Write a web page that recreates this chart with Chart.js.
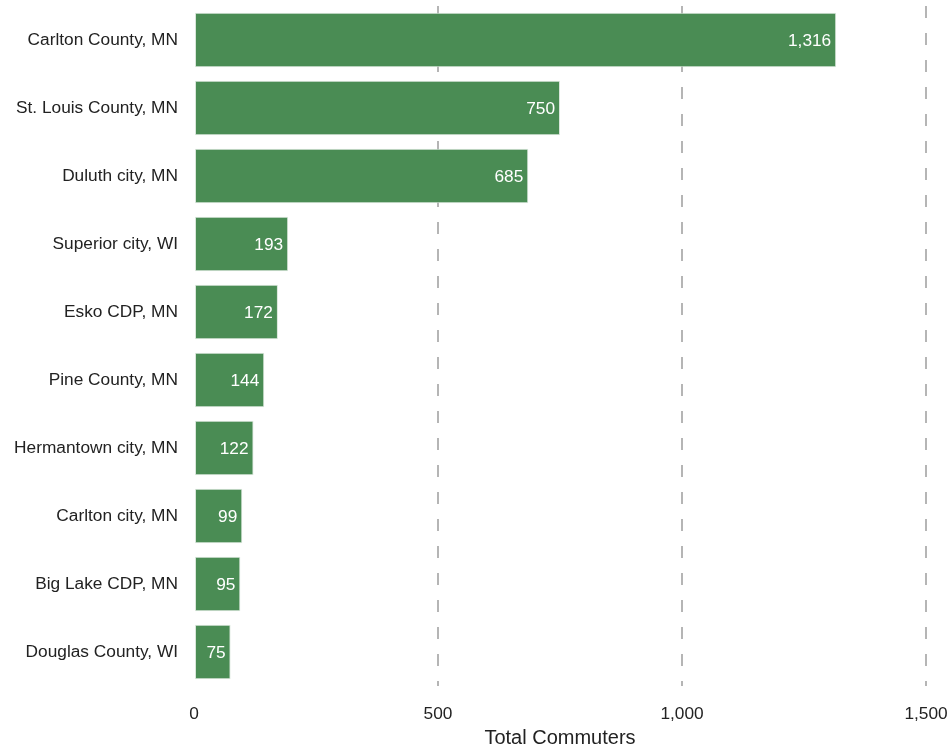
<!DOCTYPE html>
<html>
<head>
<meta charset="utf-8">
<script src="https://cdn.jsdelivr.net/npm/chart.js@4"></script>
<style>
    body { margin: 0; background: #fff; }
    #wrap { width: 949px; height: 747px; }
</style>
</head>
<body>
<div id="wrap"><canvas id="chart"></canvas></div>
<script>
const places = [
    'Carlton County, MN', 'St. Louis County, MN', 'Duluth city, MN', 'Superior city, WI',
    'Esko CDP, MN', 'Pine County, MN', 'Hermantown city, MN', 'Carlton city, MN',
    'Big Lake CDP, MN', 'Douglas County, WI'
];
const commuters = [1316, 750, 685, 193, 172, 144, 122, 99, 95, 75];
const xTicks = [0, 500, 1000, 1500];

const FONT = '"Liberation Sans", Arial, sans-serif';

// white value labels just inside the end of each bar
const barValues = {
    id: 'barValues',
    afterDatasetsDraw(chart) {
        const ctx = chart.ctx;
        const meta = chart.getDatasetMeta(0);
        ctx.save();
        ctx.font = '17.3px ' + FONT;
        ctx.fillStyle = '#ffffff';
        ctx.textAlign = 'right';
        ctx.textBaseline = 'middle';
        meta.data.forEach((bar, i) => {
            ctx.fillText(commuters[i].toLocaleString('en-US'), bar.x - 5, bar.y + 1);
        });
        ctx.restore();
    }
};

new Chart(document.getElementById('chart'), {
    type: 'bar',
    data: {
        labels: places,
        datasets: [{
            data: commuters,
            backgroundColor: '#4a8c54',
            borderColor: '#d9e6db',
            borderWidth: 1,
            borderSkipped: false,
            barPercentage: 0.8,
            categoryPercentage: 1.0
        }]
    },
    options: {
        indexAxis: 'y',
        responsive: true,
        maintainAspectRatio: false,
        animation: false,
        layout: { padding: { top: 6, right: 23, bottom: 0, left: 0 } },
        plugins: {
            legend: { display: false },
            tooltip: { enabled: false }
        },
        scales: {
            x: {
                min: 0,
                max: 1500,
                afterBuildTicks: axis => { axis.ticks = xTicks.map(v => ({ value: v })); },
                afterFit: axis => {
                    axis.height = 61;
                    axis.paddingLeft = 0;
                    axis.paddingRight = 0;
                },
                grid: {
                    drawTicks: false,
                    lineWidth: 2,
                    color: c => c.tick && c.tick.value === 0 ? 'rgba(0,0,0,0)' : '#b5b5b5'
                },
                border: { display: false, dash: [12, 15] },
                ticks: {
                    padding: 18,
                    color: '#222',
                    font: { family: FONT, size: 17.3 },
                    callback: v => v.toLocaleString('en-US')
                },
                title: {
                    display: true,
                    text: 'Total Commuters',
                    color: '#222',
                    font: { family: FONT, size: 20 },
                    padding: { top: 0, bottom: -3 }
                }
            },
            y: {
                afterFit: axis => {
                    axis.width = 194;
                    axis.paddingTop = 0;
                    axis.paddingBottom = 0;
                },
                grid: { display: false, drawTicks: false },
                border: { display: false },
                ticks: {
                    padding: 16,
                    color: '#222',
                    font: { family: FONT, size: 17.3 }
                }
            }
        }
    },
    plugins: [barValues]
});
</script>
</body>
</html>
